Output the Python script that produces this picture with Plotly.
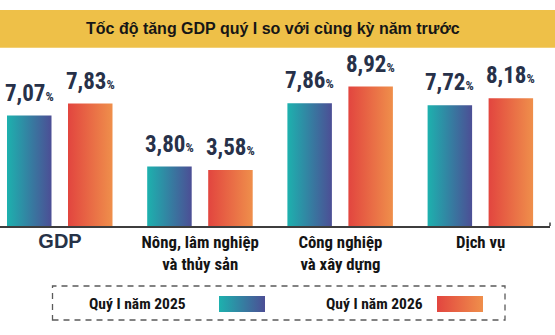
import plotly.graph_objects as go

# ---------------- data ----------------
categories = ["GDP", "Nông, lâm nghiệp<br>và thủy sản", "Công nghiệp<br>và xây dựng", "Dịch vụ"]
series_names = ["Quý I năm 2025", "Quý I năm 2026"]
values_2025 = [7.07, 3.80, 7.86, 7.72]
values_2026 = [7.83, 3.58, 8.92, 8.18]
title_text = "Tốc độ tăng GDP quý I so với cùng kỳ năm trước"

# ---------------- style ----------------
W, H = 555, 335
NARROW = "Roboto Condensed, Liberation Sans Narrow, Arial Narrow, DejaVu Sans Condensed, sans-serif"
ARIAL = "Liberation Sans, Arial, sans-serif"
NAVY = "#273149"
GRADS = [
    [[0, "#1db1ae"], [1, "#4c4e95"]],
    [[0, "#e2453f"], [1, "#ef8f4b"]],
]

UNIT = 140.2          # px per category
FIRST_CENTER = 60.0   # px of first category centre
PLOT_RIGHT = 550.0    # px right end of axis line
BASE_PX = 226.0       # px of baseline
PX_PER_VAL = 15.63
BAR_W = 44.5 / UNIT
OFFSETS = [-53.0 / UNIT, 8.0 / UNIT]


def py(p):
    return 1 - p / H


def pxx(p):
    return p / W


fig = go.Figure()

# ---------------- bars (gradient filled) ----------------
for s, vals in enumerate([values_2025, values_2026]):
    for i, v in enumerate(vals):
        left = i + OFFSETS[s]
        fig.add_trace(go.Scatter(
            x=[left, left + BAR_W, left + BAR_W, left, left],
            y=[0, 0, v, v, 0],
            mode="none", fill="toself",
            fillgradient=dict(type="horizontal", colorscale=GRADS[s]),
            name=series_names[s], showlegend=False, hoverinfo="skip",
            xaxis="x", yaxis="y",
        ))
        fig.add_annotation(
            x=left + BAR_W / 2, y=v, xref="x", yref="y",
            text=f"{v:.2f}".replace(".", ",") + "<span style='font-size:13px'>%</span>",
            showarrow=False, yanchor="bottom", yshift=7,
            font=dict(family=NARROW, size=23, color=NAVY, weight="bold"),
        )

# ---------------- legend (custom) ----------------
legend_swatches = [(219, 265), (437, 483)]
legend_text_x = [137.5, 374]
for s in range(2):
    a, b = legend_swatches[s]
    fig.add_trace(go.Scatter(
        x=[a, b, b, a, a], y=[296, 296, 312, 312, 296],
        mode="none", fill="toself",
        fillgradient=dict(type="horizontal", colorscale=GRADS[s]),
        showlegend=False, hoverinfo="skip", xaxis="x2", yaxis="y2",
    ))
    fig.add_annotation(
        x=pxx(legend_text_x[s]), y=py(303.5), xref="paper", yref="paper",
        text=series_names[s], showarrow=False, xanchor="center", yanchor="middle",
        font=dict(family=NARROW, size=15.5, color="#141414", weight="bold"),
    )

ticktext = []
for c in categories:
    if c == "GDP":
        ticktext.append(
            "<span style=\"font-family:'Liberation Sans';font-size:20px;font-weight:900;fill:#263247\"><b>GDP</b></span>")
    else:
        ticktext.append(c)

x_lo = -FIRST_CENTER / UNIT
x_hi = x_lo + PLOT_RIGHT / UNIT

fig.update_layout(
    width=W, height=H,
    margin=dict(l=0, r=0, t=0, b=0),
    paper_bgcolor="white", plot_bgcolor="rgba(0,0,0,0)",
    showlegend=False,
    xaxis=dict(
        domain=[0, PLOT_RIGHT / W], range=[x_lo, x_hi],
        showgrid=False, zeroline=False, showline=True,
        linecolor="#3d3d3d", linewidth=1.5,
        tickvals=list(range(len(categories))), ticktext=ticktext,
        ticks="", tickfont=dict(family=NARROW, size=16.8, color="#141414", weight="bold"),
        fixedrange=True,
    ),
    yaxis=dict(
        domain=[(H - BASE_PX) / H, 1],
        range=[0, BASE_PX / PX_PER_VAL],
        visible=False, fixedrange=True,
    ),
    xaxis2=dict(domain=[0, 1], range=[0, W], visible=False, anchor="y2", fixedrange=True),
    yaxis2=dict(domain=[0, 1], range=[H, 0], visible=False, anchor="x2", fixedrange=True),
    shapes=[
        dict(type="rect", xref="paper", yref="paper", x0=0, x1=1,
             y0=py(47.7), y1=py(10), fillcolor="#EEC048", line=dict(width=0), layer="below"),
        dict(type="rect", xref="paper", yref="paper", x0=pxx(52.5), x1=pxx(505),
             y0=py(320), y1=py(286), line=dict(color="#5a5a5a", width=1.3, dash="6px,5px")),
        dict(type="line", xref="paper", yref="paper", x0=pxx(PLOT_RIGHT), x1=pxx(PLOT_RIGHT),
             y0=py(BASE_PX), y1=py(BASE_PX - 3.5), line=dict(color="#3d3d3d", width=1.5)),
    ],
)

fig.add_annotation(
    x=pxx(272.5), y=py(28.5), xref="paper", yref="paper",
    text=title_text, showarrow=False, xanchor="center", yanchor="middle",
    font=dict(family=ARIAL, size=16, color="#161616", weight="bold"),
)

fig.write_html("out.html", config={"displayModeBar": False})
